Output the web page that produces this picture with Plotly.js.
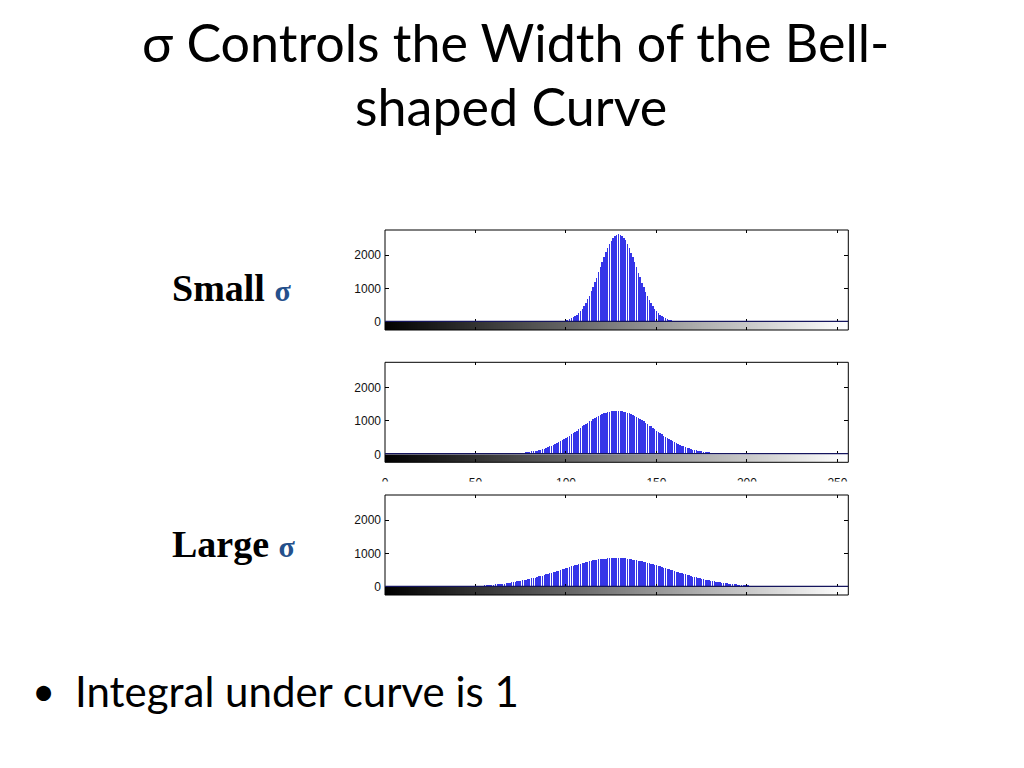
<!DOCTYPE html>
<html>
<head>
<meta charset="utf-8">
<script src="https://cdn.plot.ly/plotly-3.0.1.min.js"></script>
<style>
  html, body { margin: 0; padding: 0; background: #ffffff; }
  #chart { width: 1024px; height: 768px; }
</style>
</head>
<body>
<div id="chart"></div>
<script>
// ---------------- data ----------------
// gray levels of the histogram (imhist bins) and the axis ticks
const grayTicks = [0, 50, 100, 150, 200, 250];
const countTicks = [0, 1000, 2000];

// small sigma: counts for bins starting at smallStart
const smallStart = 97;
const smallCounts = [15, 24, 36, 51, 63, 86, 105, 141, 171, 220, 265, 331, 395, 482, 565, 676, 780, 912, 1035, 1188,
  1322, 1486, 1630, 1795, 1931, 2087, 2204, 2336, 2424, 2518, 2565, 2612, 2620, 2601, 2577, 2505, 2437, 2322, 2218, 2073,
  1944, 1782, 1641, 1474, 1335, 1176, 1046, 902, 790, 665, 574, 472, 402, 323, 272, 213, 177, 135, 110, 82,
  67, 48, 39, 27, 18, 11];

// medium sigma
const mediumStart = 74;
const mediumCounts = [30, 38, 41, 52, 55, 68, 71, 86, 90, 107, 112, 131, 140, 163, 172, 198, 210, 238, 254, 285,
  302, 338, 356, 395, 418, 460, 482, 530, 552, 600, 628, 676, 702, 752, 781, 835, 862, 910, 940, 985,
  1010, 1055, 1080, 1125, 1140, 1180, 1195, 1230, 1240, 1265, 1270, 1290, 1288, 1302, 1296, 1304, 1290, 1292, 1270, 1265,
  1238, 1230, 1195, 1180, 1140, 1126, 1080, 1062, 1015, 992, 938, 916, 860, 838, 784, 760, 705, 680, 628, 605,
  552, 530, 484, 460, 418, 396, 358, 340, 303, 290, 255, 242, 212, 200, 174, 165, 140, 135, 114, 110,
  92, 88, 80, 76, 70, 64];

// large sigma
const largeStart = 52;
const largeCounts = [36, 40, 43, 49, 50, 55, 60, 64, 66, 75, 78, 84, 90, 97, 102, 113, 117, 127, 135, 144,
  152, 165, 171, 185, 195, 206, 216, 232, 240, 256, 270, 283, 296, 315, 326, 342, 359, 374, 389, 408,
  423, 441, 460, 475, 492, 512, 527, 545, 564, 580, 597, 617, 632, 648, 666, 681, 696, 714, 726, 741,
  756, 768, 779, 794, 802, 813, 824, 831, 839, 848, 852, 858, 864, 866, 868, 872, 869, 867, 866, 861,
  857, 853, 845, 838, 831, 821, 810, 802, 788, 777, 766, 751, 737, 726, 709, 694, 681, 664, 648, 634,
  615, 598, 583, 564, 546, 531, 511, 494, 479, 459, 442, 427, 409, 392, 378, 360, 344, 331, 314, 299,
  287, 271, 258, 247, 232, 220, 210, 197, 186, 177, 165, 156, 149, 138, 130, 124, 114, 107, 102, 94,
  88, 84, 76, 71, 67, 62, 57, 54, 49, 45, 42, 38];

// text
const titleLines = ["σ Controls the Width of the Bell-", "shaped Curve"];
const smallLabel = "Small";
const largeLabel = "Large";
const sigmaChar = "σ";
const bulletText = "Integral under curve is 1";

// ---------------- helpers ----------------
const W = 1024, H = 768;
const px = x => x / W;
const py = y => 1 - y / H;
const binsFrom = (start, counts) => counts.map((_, i) => start + i);
const grayLevels = [];
for (let g = 0; g <= 255; g++) grayLevels.push(g);

const plotLeft = 385, plotRight = 848.3;
const panelTops = [230, 362.3, 495];
const histH = 92, barH = 8;
const yMax = 2750;

const series = [
  { start: smallStart, counts: smallCounts },
  { start: mediumStart, counts: mediumCounts },
  { start: largeStart, counts: largeCounts }
];

const tickFont = { family: "Liberation Sans, Arial, sans-serif", size: 12, color: "#111111" };

const traces = [];
const layout = {
  width: W, height: H,
  margin: { l: 0, r: 0, t: 0, b: 0 },
  paper_bgcolor: "#ffffff",
  plot_bgcolor: "rgba(0,0,0,0)",
  showlegend: false,
  bargap: 0,
  shapes: [],
  annotations: []
};

series.forEach((s, i) => {
  const T = panelTops[i];
  const hx = 2 * i + 1, cx = 2 * i + 2;
  const hxName = "xaxis" + (hx === 1 ? "" : hx), hyName = "yaxis" + (hx === 1 ? "" : hx);
  const cxName = "xaxis" + cx, cyName = "yaxis" + cx;
  const hxRef = "x" + (hx === 1 ? "" : hx), hyRef = "y" + (hx === 1 ? "" : hx);
  const cxRef = "x" + cx, cyRef = "y" + cx;

  traces.push({
    type: "bar",
    x: binsFrom(s.start, s.counts),
    y: s.counts,
    width: 0.78,
    marker: { color: "#3535e8", line: { width: 0 } },
    xaxis: hxRef, yaxis: hyRef,
    hoverinfo: "skip"
  });
  traces.push({
    type: "heatmap",
    x: grayLevels,
    y: [0],
    z: [grayLevels],
    colorscale: [[0, "#000000"], [1, "#ffffff"]],
    zmin: 0, zmax: 255,
    showscale: false,
    xaxis: cxRef, yaxis: cyRef,
    hoverinfo: "skip"
  });

  layout[hxName] = {
    domain: [px(plotLeft), px(plotRight)],
    anchor: hyRef,
    range: [0, 256],
    showgrid: false, zeroline: false, showline: false,
    tickvals: grayTicks, showticklabels: false,
    ticks: "inside", ticklen: 3, tickcolor: "#000", mirror: "ticks"
  };
  layout[hyName] = {
    domain: [py(T + histH), py(T)],
    anchor: hxRef,
    range: [0, yMax],
    showgrid: false, zeroline: false, showline: false,
    tickvals: countTicks, ticktext: countTicks.map(String),
    ticks: "inside", ticklen: 4, tickcolor: "#000", mirror: "ticks",
    ticklabelstandoff: 3,
    tickfont: tickFont
  };
  layout[cxName] = {
    domain: [px(plotLeft), px(plotRight)],
    anchor: cyRef,
    range: [0, 256],
    showgrid: false, zeroline: false, showline: false,
    tickvals: grayTicks, ticktext: grayTicks.map(String),
    showticklabels: i === 1,
    ticklabelstandoff: 12,
    ticks: "inside", ticklen: 3, tickcolor: "#000",
    tickfont: tickFont
  };
  layout[cyName] = {
    domain: [py(T + histH + barH), py(T + histH)],
    anchor: cxRef,
    range: [-0.5, 0.5],
    visible: false
  };

  // panel frame
  layout.shapes.push({
    type: "rect", xref: "paper", yref: "paper",
    x0: px(plotLeft), x1: px(plotRight), y0: py(T + histH + barH), y1: py(T),
    line: { color: "#000", width: 1 }, fillcolor: "rgba(0,0,0,0)", layer: "above"
  });
  // dark baseline at count 0
  layout.shapes.push({
    type: "line", xref: hxRef, yref: hyRef,
    x0: 0, x1: 256, y0: 0, y1: 0,
    line: { color: "#15155e", width: 2.5 }, layer: "above"
  });
});

// the lower panel's picture hides most of the middle panel's tick labels
layout.shapes.push({
  type: "rect", xref: "paper", yref: "paper",
  x0: px(360), x1: px(870), y0: py(493), y1: py(481.5),
  line: { width: 0 }, fillcolor: "#ffffff", layer: "above"
});

// ---------------- text ----------------
const titleFont = { family: "Lato, 'Open Sans', sans-serif", size: 52, color: "#000" };
const labelFont = { family: "Liberation Serif, 'Times New Roman', serif", size: 38, color: "#000" };
const sigmaSpan = "<span style='color:#24508c;font-size:30px'><b>" + sigmaChar + "</b></span>";
layout.annotations.push(
  { text: titleLines[0], xref: "paper", yref: "paper", x: px(515), y: py(42), xanchor: "center", yanchor: "middle",
    showarrow: false, font: titleFont },
  { text: titleLines[1], xref: "paper", yref: "paper", x: px(511), y: py(106), xanchor: "center", yanchor: "middle",
    showarrow: false, font: titleFont },
  { text: "<b>" + smallLabel + "</b> " + sigmaSpan,
    xref: "paper", yref: "paper", x: px(170), y: py(288), xanchor: "left", yanchor: "middle",
    showarrow: false, font: labelFont },
  { text: "<b>" + largeLabel + "</b> " + sigmaSpan,
    xref: "paper", yref: "paper", x: px(170), y: py(544), xanchor: "left", yanchor: "middle",
    showarrow: false, font: labelFont },
  { text: "•", xref: "paper", yref: "paper", x: px(30), y: py(691), xanchor: "left", yanchor: "middle",
    showarrow: false, font: { family: "Lato, sans-serif", size: 40, color: "#000" } },
  { text: bulletText, xref: "paper", yref: "paper", x: px(73), y: py(691), xanchor: "left", yanchor: "middle",
    showarrow: false, font: { family: "Lato, 'Open Sans', sans-serif", size: 42, color: "#000" } }
);

Plotly.newPlot("chart", traces, layout, { staticPlot: true, displayModeBar: false });
</script>
</body>
</html>
